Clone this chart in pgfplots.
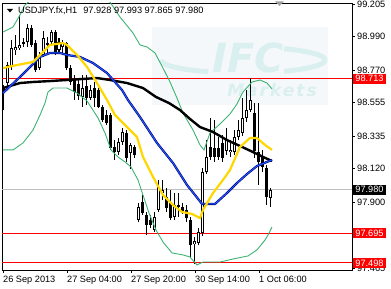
\documentclass[border=0pt]{standalone}
\usepackage{pgfplots}
\pgfplotsset{compat=1.18}
\usepackage{pgfplotstable}
\usepackage{fontspec}
\setmainfont{Liberation Sans}
\newfontfamily\wmfont{DejaVu Sans}
\newfontfamily\wmfontls[LetterSpace=12]{DejaVu Sans}
\definecolor{mtgreen}{RGB}{60,179,113}
\definecolor{mtgold}{RGB}{255,215,0}
\definecolor{mtblue}{RGB}{30,90,255}
\definecolor{mtnavy}{RGB}{0,0,120}
\definecolor{wmbox}{RGB}{245,248,250}
\definecolor{wmtext}{RGB}{218,239,239}
\definecolor{mtsilver}{RGB}{192,192,192}
\definecolor{mtgray}{RGB}{160,160,160}

\pgfplotstableread{
i O H L C
1 98.684 98.823 98.651 98.803
2 98.790 98.968 98.770 98.915
3 98.902 99.001 98.869 98.922
4 98.915 99.133 98.902 98.935
5 98.948 98.981 98.922 98.955
6 98.955 99.073 98.922 99.047
9 98.783 98.889 98.770 98.869
10 98.869 99.027 98.856 98.981
11 98.935 98.987 98.882 98.948
12 98.955 99.034 98.935 99.020
14 98.902 98.981 98.882 98.955
15 98.922 98.968 98.882 98.955
20 98.592 98.737 98.526 98.651
22 98.585 98.671 98.572 98.638
29 98.229 98.322 98.210 98.295
30 98.295 98.388 98.276 98.361
32 98.223 98.289 98.118 98.276
34 97.781 97.893 97.768 97.867
38 97.715 97.834 97.702 97.801
39 97.847 98.045 97.834 97.999
40 97.959 98.045 97.913 97.979
43 97.801 97.959 97.781 97.880
44 97.867 97.959 97.801 97.880
48 97.623 97.669 97.490 97.643
49 97.629 97.728 97.616 97.702
50 97.695 98.124 97.676 98.098
51 98.098 98.308 98.084 98.197
56 98.236 98.388 98.210 98.308
57 98.229 98.308 98.197 98.243
58 98.229 98.374 98.210 98.328
59 98.328 98.440 98.308 98.374
60 98.355 98.585 98.335 98.454
61 98.454 98.638 98.427 98.506
62 98.506 98.717 98.493 98.572
67 97.928 97.993 97.865 97.980
}\bull

\pgfplotstableread{
i O H L C
0 98.658 98.671 98.506 98.625
7 99.047 99.066 98.922 98.935
8 98.948 98.968 98.757 98.770
13 99.020 99.034 98.869 98.882
16 98.948 98.955 98.770 98.783
17 98.783 98.803 98.671 98.691
18 98.704 98.737 98.572 98.625
19 98.678 98.717 98.572 98.599
21 98.664 98.737 98.539 98.585
23 98.651 98.691 98.526 98.585
24 98.638 98.651 98.519 98.526
25 98.526 98.539 98.427 98.440
26 98.473 98.506 98.407 98.421
27 98.473 98.486 98.243 98.256
28 98.262 98.308 98.177 98.229
31 98.355 98.374 98.164 98.190
33 98.262 98.276 98.190 98.210
35 97.900 97.946 97.814 97.827
36 97.814 97.834 97.682 97.748
37 97.781 97.814 97.728 97.748
41 97.933 97.992 97.834 97.860
42 97.893 97.979 97.781 97.794
45 97.867 97.893 97.821 97.834
46 97.847 97.880 97.768 97.794
47 97.781 97.801 97.537 97.616
52 98.262 98.454 98.177 98.197
53 98.256 98.440 98.164 98.197
54 98.256 98.328 98.177 98.197
55 98.289 98.341 98.164 98.190
63 98.486 98.552 98.190 98.236
64 98.229 98.552 98.012 98.164
65 98.197 98.243 98.098 98.131
66 98.124 98.144 97.880 97.933
}\bear

\begin{document}
\begin{tikzpicture}[font=\fontsize{9.2}{11}\selectfont]
\path[use as bounding box] (-2pt,-19pt) rectangle (389pt,270pt);
% watermark
\fill[wmbox] (150pt,243pt) rectangle (326pt,165pt);
\draw[wmtext, line width=5pt] (241pt,210pt) ++(180:82pt and 13pt) arc[start angle=180, end angle=245, x radius=82pt, y radius=13pt];
\draw[wmtext, line width=5pt] (241pt,210pt) ++(-60:82pt and 13pt) arc[start angle=-60, end angle=60, x radius=82pt, y radius=13pt];
\node[text=wmtext, font=\wmfont\bfseries\itshape\fontsize{40}{40}\selectfont, inner sep=0pt] at (246pt,212pt) {IFC};
\node[text=wmtext, font=\wmfontls\bfseries\itshape\fontsize{17}{17}\selectfont, inner sep=0pt] at (270pt,180pt) {Markets};

\begin{axis}[
  at={(0pt,0pt)}, anchor=south west,
  scale only axis, width=350pt, height=267pt,
  xmin=-0.25, xmax=87.25, ymin=97.4515, ymax=99.2116,
  axis line style={black, line width=0.9pt},
  clip mode=individual,
  xtick={0,16,32,48,64},
  xticklabels={26 Sep 2013,27 Sep 04:00,27 Sep 20:00,30 Sep 14:00,1 Oct 06:00},
  ytick={99.205,98.990,98.770,98.555,98.335,98.120,97.900,97.685,97.465},
  yticklabels={99.205,98.990,98.770,98.555,98.335,98.120,97.900,,97.465},
  xtick pos=bottom, ytick pos=right, yticklabel pos=right,
  tick align=outside, major tick length=3pt,
  tick style={black, line width=0.9pt},
  xticklabel style={anchor=north west, inner sep=0pt, xshift=0pt, yshift=-3pt},
  yticklabel style={anchor=west, inner sep=0pt, xshift=2pt},
]
% horizontal levels
\addplot[red, line width=1pt] coordinates {(-1,98.713) (90,98.713)};
\addplot[red, line width=1pt] coordinates {(-1,97.695) (90,97.695)};
\addplot[red, line width=1pt] coordinates {(-1,97.498) (90,97.498)};
\addplot[mtsilver, line width=1pt] coordinates {(-1,97.980) (90,97.980)};

% wicks
\addplot[draw=none, error bars/.cd, y dir=both, y explicit, error mark=none,
  error bar style={draw=black, line width=1pt, line cap=butt}]
  table[x=i, y expr={(\thisrow{H}+\thisrow{L})/2}, y error expr={(\thisrow{H}-\thisrow{L})/2}] {\bull};
\addplot[draw=none, error bars/.cd, y dir=both, y explicit, error mark=none,
  error bar style={draw=black, line width=1pt, line cap=butt}]
  table[x=i, y expr={(\thisrow{H}+\thisrow{L})/2}, y error expr={(\thisrow{H}-\thisrow{L})/2}] {\bear};
% bodies
\addplot[draw=none, error bars/.cd, y dir=both, y explicit, error mark=none,
  error bar style={draw=black, line width=3pt, line cap=butt}]
  table[x=i, y expr={(\thisrow{O}+\thisrow{C})/2}, y error expr={abs(\thisrow{O}-\thisrow{C})/2}] {\bear};
\addplot[draw=none, error bars/.cd, y dir=both, y explicit, error mark=none,
  error bar style={draw=black, line width=3pt, line cap=butt}]
  table[x=i, y expr={(\thisrow{O}+\thisrow{C})/2}, y error expr={abs(\thisrow{O}-\thisrow{C})/2}] {\bull};
\addplot[draw=none, error bars/.cd, y dir=both, y explicit, error mark=none,
  error bar style={draw=white, line width=1pt, line cap=butt}]
  table[x=i, y expr={(\thisrow{O}+\thisrow{C})/2}, y error expr={max(abs(\thisrow{O}-\thisrow{C})/2-0.0066,0)}] {\bull};

% Bollinger bands
\addplot[mtgreen, line width=0.9pt] coordinates {
(0,99.020)(2.5,99.053)(4.25,99.133)(5.5,99.198)(9,99.28)(16,99.31)(23,99.26)(26.75,99.218)(29.25,99.119)(32.5,99.014)(34.25,98.935)(36,98.922)(38,98.882)(40,98.783)(41.75,98.691)(43.5,98.585)(45,98.486)(47.5,98.374)(49.25,98.276)(50.25,98.243)(51.75,98.355)(54.25,98.414)(56.75,98.480)(58.5,98.546)(60,98.625)(62.25,98.691)(64.25,98.704)(66,98.684)(67.25,98.645)};
\addplot[mtgreen, line width=0.9pt] coordinates {
(0,98.243)(2.5,98.243)(5,98.289)(7.5,98.374)(9.25,98.473)(10.5,98.552)(11.25,98.625)(12.5,98.651)(16,98.651)(18.5,98.618)(21,98.566)(23.75,98.454)(25.5,98.355)(27,98.243)(28.75,98.197)(30.5,98.164)(32,98.131)(33.75,98.045)(35,97.946)(36.5,97.827)(38.25,97.715)(40,97.636)(42.25,97.564)(45,97.551)(46.75,97.537)(48.5,97.485)(50,97.504)(54.25,97.504)(57.5,97.524)(61.25,97.544)(63.5,97.584)(65.5,97.649)(66.25,97.682)(67.25,97.735)};
% slow MA
\addplot[black, line width=2.4pt] coordinates {
(0,98.651)(4.25,98.684)(7.5,98.691)(11.75,98.697)(16,98.704)(23.5,98.717)(26.75,98.704)(31,98.684)(35,98.651)(38.25,98.592)(41.5,98.552)(44.25,98.506)(46.75,98.447)(49.25,98.394)(52.5,98.361)(56,98.308)(59.25,98.269)(62.5,98.229)(65,98.197)(67.25,98.170)};
% medium MA
\addplot[mtnavy, line width=2.2pt] coordinates {
(0,98.618)(4.25,98.724)(6.75,98.790)(9.25,98.856)(11.75,98.882)(14.25,98.882)(16,98.869)(19.25,98.856)(22.5,98.816)(26,98.750)(29.75,98.638)(31.25,98.572)(34.25,98.460)(38.5,98.289)(42.5,98.157)(46,98.012)(48,97.946)(49.75,97.887)(53,97.887)(56,97.959)(58.5,98.025)(61,98.084)(63.5,98.137)(66,98.164)(67.25,98.177)};
\addplot[mtblue, line width=1pt] coordinates {
(0,98.618)(4.25,98.724)(6.75,98.790)(9.25,98.856)(11.75,98.882)(14.25,98.882)(16,98.869)(19.25,98.856)(22.5,98.816)(26,98.750)(29.75,98.638)(31.25,98.572)(34.25,98.460)(38.5,98.289)(42.5,98.157)(46,98.012)(48,97.946)(49.75,97.887)(53,97.887)(56,97.959)(58.5,98.025)(61,98.084)(63.5,98.137)(66,98.164)(67.25,98.177)};
% fast MA
\addplot[mtgold, line width=2.2pt] coordinates {
(0,98.783)(3,98.800)(7.5,98.823)(9.25,98.869)(11.75,98.935)(15,98.948)(16,98.935)(18.5,98.869)(21,98.790)(23.5,98.684)(26,98.572)(28,98.473)(31,98.394)(33.5,98.328)(35,98.197)(37.5,98.065)(40,97.946)(42.5,97.880)(44.75,97.834)(47.25,97.821)(49.25,97.794)(50,97.847)(52.5,97.959)(55,98.045)(56.75,98.111)(59.25,98.262)(61.75,98.322)(63.5,98.322)(65.5,98.276)(67.25,98.243)};

\coordinate (L1) at (axis cs:87.25,98.713);
\coordinate (L2) at (axis cs:87.25,97.695);
\coordinate (L3) at (axis cs:87.25,97.498);
\coordinate (L4) at (axis cs:87.25,97.980);
\end{axis}

\tikzset{lvl/.style={anchor=west, inner xsep=2.2pt, inner ysep=0pt, minimum height=10pt, xshift=1pt, text=white}}
\node[lvl, fill=red] at (L1) {98.713};
\node[lvl, fill=red] at (L2) {97.695};
\node[lvl, fill=red] at (L3) {97.498};
\node[lvl, fill=black] at (L4) {97.980};

% title and markers
\fill[black] (5pt,261pt) -- (11pt,261pt) -- (8pt,257.5pt) -- cycle;
\node[anchor=base west, inner sep=0pt] at (16pt,256pt) {USDJPY.fx,H1\hspace{6pt}97.928 97.993 97.865 97.980};
\fill[mtgray] (273pt,268.5pt) -- (282pt,268.5pt) -- (277.5pt,264pt) -- cycle;
\end{tikzpicture}
\end{document}
